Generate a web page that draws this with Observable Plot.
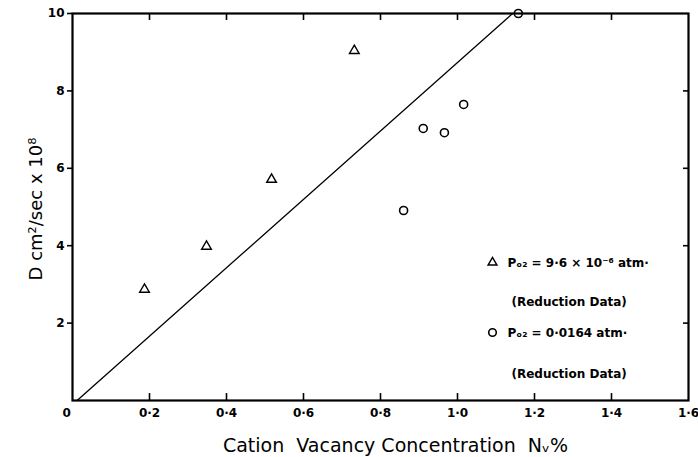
<!DOCTYPE html>
<html><head><meta charset="utf-8">
<script src="https://cdn.jsdelivr.net/npm/d3@7"></script>
<script src="https://cdn.jsdelivr.net/npm/@observablehq/plot@0.6"></script>
<style>body{margin:0;background:#fff}</style>
</head><body><div id="chart"></div>
<script>
// Triangles: P_O2 = 9.6e-6 atm (Reduction Data)
const triX = [0.187, 0.348, 0.517, 0.732];
const triY = [2.87, 3.98, 5.71, 9.04];
// Circles: P_O2 = 0.0164 atm (Reduction Data)
const circX = [0.86, 0.911, 0.966, 1.016, 1.158];
const circY = [4.91, 7.03, 6.92, 7.65, 10.0];
// Fitted straight line
const fitX = [0.012, 1.143];
const fitY = [0, 10];
const xTicks = [0.2, 0.4, 0.6, 0.8, 1.0, 1.2, 1.4, 1.6];
const yTicks = [2, 4, 6, 8, 10];
const xLabel = "Cation\u00a0\u00a0Vacancy Concentration\u00a0\u00a0Nᵥ%";
const yLabel = "D cm²/sec x 10⁸";
const legend1 = "Pₒ₂ = 9·6 × 10⁻⁶ atm·";
const legend2 = "Pₒ₂ = 0·0164 atm·";
const legendSub = "(Reduction Data)";

const tri = triX.map((x, i) => ({x, y: triY[i]}));
const circ = circX.map((x, i) => ({x, y: circY[i]}));
const fit = fitX.map((x, i) => ({x, y: fitY[i]}));
const fmt = d => d.toFixed(1).replace(".", "·");
const FONT = "DejaVu Sans";

const chart = Plot.plot({
  width: 698, height: 457,
  marginLeft: 72, marginRight: 10, marginTop: 13, marginBottom: 57,
  style: {fontFamily: FONT, background: "#fff", color: "#000"},
  x: {domain: [0, 1.6]},
  y: {domain: [0, 10]},
  marks: [
    Plot.line(fit, {x: "x", y: "y", stroke: "#000", strokeWidth: 1.3}),
    Plot.dot(tri, {x: "x", y: "y", symbol: "triangle", r: 3.6, stroke: "#000", strokeWidth: 1.4, fill: "#fff"}),
    Plot.dot(circ, {x: "x", y: "y", symbol: "circle", r: 4, stroke: "#000", strokeWidth: 1.6, fill: "#fff"}),
    Plot.ruleX(xTicks.filter(d => d < 1.6), {x: d => d, y1: 0, y2: 0.18, stroke: "#000", strokeWidth: 1.6}),
    Plot.ruleX(xTicks.filter(d => d < 1.6), {x: d => d, y1: 10, y2: 9.82, stroke: "#000", strokeWidth: 1.6}),
    Plot.ruleY(yTicks.filter(d => d < 10), {y: d => d, x1: 1.6, x2: 1.587, stroke: "#000", strokeWidth: 1.6}),
    Plot.axisY({ticks: yTicks, tickSize: 5, tickPadding: 3, label: null, fontSize: 12, fontWeight: "bold", strokeWidth: 1.6}),
    Plot.axisX({ticks: xTicks, tickSize: 0, tickPadding: 8, label: null, tickFormat: fmt, fontSize: 12, fontWeight: "bold"}),
    Plot.text(["0"], {frameAnchor: "bottom-left", dx: -10, dy: 13, lineAnchor: "middle", fontSize: 12, fontWeight: "bold"}),
    Plot.frame({stroke: "#000", strokeWidth: 2.2}),
    Plot.text([yLabel], {frameAnchor: "left", rotate: -90, dx: -36, dy: 2, textAnchor: "middle", lineAnchor: "middle", fontSize: 18}),
    Plot.text([xLabel], {frameAnchor: "bottom", dx: 15, dy: 45, textAnchor: "middle", lineAnchor: "middle", fontSize: 19, letterSpacing: 0.3}),
    Plot.dot([0], {frameAnchor: "top-left", dx: 420, dy: 249, symbol: "triangle", r: 3.3, stroke: "#000", strokeWidth: 1.4, fill: "#fff"}),
    Plot.dot([0], {frameAnchor: "top-left", dx: 420, dy: 319, symbol: "circle", r: 3.8, stroke: "#000", strokeWidth: 1.6, fill: "#fff"}),
    Plot.text([legend1], {frameAnchor: "top-left", dx: 435, dy: 250, textAnchor: "start", lineAnchor: "middle", fontSize: 12, fontWeight: "bold"}),
    Plot.text([legendSub], {frameAnchor: "top-left", dx: 439, dy: 289, textAnchor: "start", lineAnchor: "middle", fontSize: 12, fontWeight: "bold"}),
    Plot.text([legend2], {frameAnchor: "top-left", dx: 435, dy: 320, textAnchor: "start", lineAnchor: "middle", fontSize: 12, fontWeight: "bold"}),
    Plot.text([legendSub], {frameAnchor: "top-left", dx: 439, dy: 361, textAnchor: "start", lineAnchor: "middle", fontSize: 12, fontWeight: "bold"})
  ]
});
document.getElementById("chart").appendChild(chart);
</script>
</body></html>
